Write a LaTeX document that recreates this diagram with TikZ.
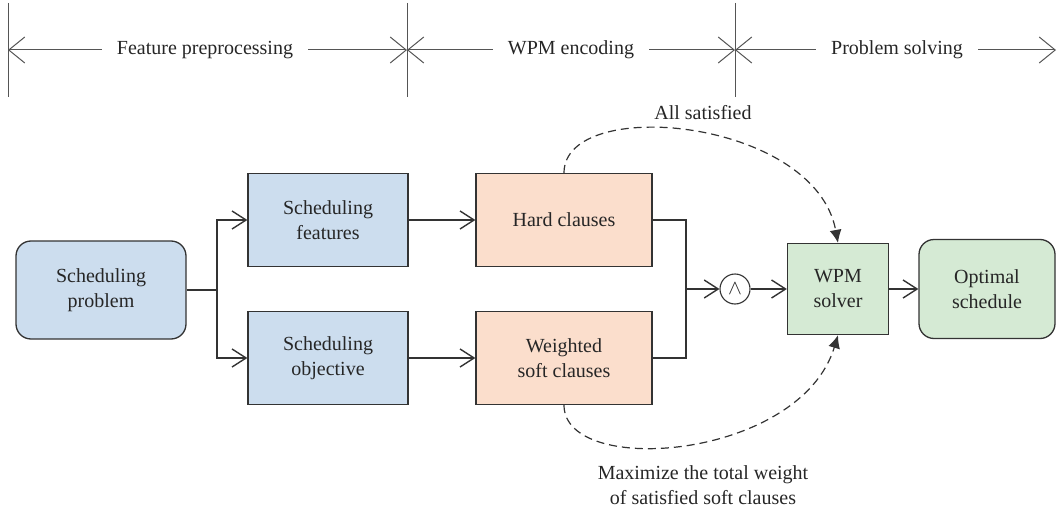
\documentclass[tikz,border=0pt]{standalone}
\usepackage{fontspec}
\setmainfont{Liberation Serif}
\usetikzlibrary{arrows.meta}
\definecolor{boxblue}{HTML}{CCDDEE}
\definecolor{boxpeach}{HTML}{FBDECC}
\definecolor{boxgreen}{HTML}{D5EAD4}
\definecolor{edgegray}{HTML}{333333}
\definecolor{bargray}{HTML}{555555}

\begin{document}
\begin{tikzpicture}[x=1pt,y=-1pt,
  every node/.style={font=\fontsize{20}{25}\selectfont, text=black!85},
  box/.style={draw=edgegray, line width=1.3pt, align=center, inner sep=0pt},
  arr/.style={draw=edgegray, line width=1.4pt, -{Straight Barb[length=14pt,width=18pt]}},
  link/.style={draw=edgegray, line width=1.4pt},
  bar/.style={draw=bargray, line width=1pt, -{Straight Barb[length=16pt,width=26pt]}},
  hint/.style={draw=edgegray, line width=1.2pt, dash pattern=on 8pt off 5pt, -{Latex[length=13pt,width=12pt]}}]
\useasboundingbox (0,0) rectangle (1058,511);

% stages on top
\draw[draw=bargray, line width=1pt] (8,3) -- (8,97);
\draw[draw=bargray, line width=1pt] (407,3) -- (407,97);
\draw[draw=bargray, line width=1pt] (735,3) -- (735,97);
\coordinate (t0) at (8,50);
\coordinate (t1) at (407,50);
\coordinate (t2) at (735,50);
\coordinate (t3) at (1056,50);
\node[inner xsep=15pt](fp) at (205,50){Feature preprocessing};
\node[inner xsep=15pt](we) at (571,50){WPM encoding};
\node[inner xsep=15pt](ps) at (897,50){Problem solving};
\draw[bar] (fp) -- (t0);
\draw[bar] (fp) -- (t1);
\draw[bar] (we) -- (t1);
\draw[bar] (we) -- (t2);
\draw[bar] (ps) -- (t2);
\draw[bar] (ps) -- (t3);

% boxes
\node[box, fill=boxblue, rounded corners=15pt, minimum width=170pt, minimum height=98pt](prob) at (101,290){Scheduling\\problem};
\node[box, fill=boxblue, minimum width=160pt, minimum height=93pt](feat) at (328,220){Scheduling\\features};
\node[box, fill=boxblue, minimum width=160pt, minimum height=93pt](obj) at (328,358){Scheduling\\objective};
\node[box, fill=boxpeach, minimum width=176pt, minimum height=93pt](hard) at (564,220){Hard clauses};
\node[box, fill=boxpeach, minimum width=176pt, minimum height=93pt](soft) at (564,358){Weighted\\soft clauses};
\node[draw=edgegray, line width=1.1pt, circle, minimum size=30pt, inner sep=0pt](and) at (735,289){$\wedge$};
\node[box, fill=boxgreen, minimum width=101pt, minimum height=91pt](solver) at (838,289){WPM\\solver};
\node[box, fill=boxgreen, rounded corners=15pt, minimum width=136pt, minimum height=99pt](opt) at (987,289){Optimal\\schedule};

% connectors
\coordinate (split) at (217,290);
\coordinate (merge) at (686,289);
\draw[link] (prob) -- (split);
\draw[arr] (split) |- (feat);
\draw[arr] (split) |- (obj);
\draw[arr] (feat) -- (hard);
\draw[arr] (obj) -- (soft);
\draw[link] (hard) -| (merge);
\draw[link] (soft) -| (merge);
\draw[arr] (merge) -- (and);
\draw[arr] (and) -- (solver);
\draw[arr] (solver) -- (opt);

% dashed hints
\draw[hint] (hard.north) .. controls (564,95) and (815,118) .. (solver.north);
\draw[hint] (soft.south) .. controls (564,478) and (800,460) .. (solver.south);
\node(sat) at (703,113){All satisfied};
\node[align=center](maxw) at (703,485){Maximize the total weight\\of satisfied soft clauses};
\end{tikzpicture}
\end{document}
